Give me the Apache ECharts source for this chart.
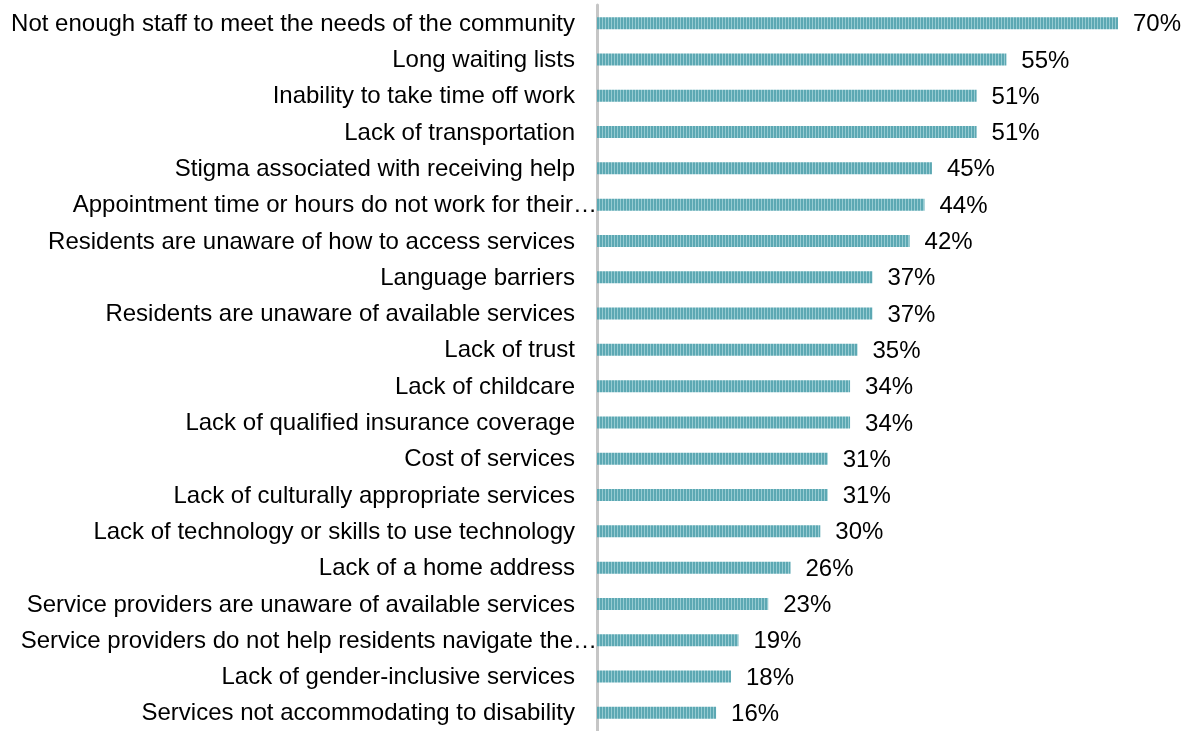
<!DOCTYPE html>
<html>
<head>
<meta charset="utf-8">
<script src="https://cdn.jsdelivr.net/npm/echarts@6/dist/echarts.min.js"></script>
<style>
  html, body { margin: 0; padding: 0; background: #ffffff; }
  #chart { width: 1189px; height: 731px; }
</style>
</head>
<body>
<div id="chart"></div>
<script>
// Barriers, listed top to bottom
const categories = [
  'Not enough staff to meet the needs of the community',
  'Long waiting lists',
  'Inability to take time off work',
  'Lack of transportation',
  'Stigma associated with receiving help',
  'Appointment time or hours do not work for their\u2026',
  'Residents are unaware of how to access services',
  'Language barriers',
  'Residents are unaware of available services',
  'Lack of trust',
  'Lack of childcare',
  'Lack of qualified insurance coverage',
  'Cost of services',
  'Lack of culturally appropriate services',
  'Lack of technology or skills to use technology',
  'Lack of a home address',
  'Service providers are unaware of available services',
  'Service providers do not help residents navigate the\u2026',
  'Lack of gender-inclusive services',
  'Services not accommodating to disability'
];
const percentages = [70, 55, 51, 51, 45, 44, 42, 37, 37, 35, 34, 34, 31, 31, 30, 26, 23, 19, 18, 16];

// vertical stripe fill for the bars
const stripe = document.createElement('canvas');
stripe.width = 3; stripe.height = 4;
const sctx = stripe.getContext('2d');
sctx.fillStyle = '#96cbd2'; sctx.fillRect(0, 0, 3, 4);
sctx.fillStyle = '#5ca8b3'; sctx.fillRect(0, 0, 2, 4);

const FONT = 'Liberation Sans, Arial, sans-serif';

const chart = echarts.init(document.getElementById('chart'));
chart.setOption({
  animation: false,
  grid: { left: 597, top: 5, width: 521, height: 731.6, containLabel: false },
  xAxis: {
    type: 'value', min: 0, max: 70, show: false
  },
  yAxis: {
    type: 'category',
    inverse: true,
    data: categories,
    axisLine: { show: true, lineStyle: { color: '#c6c6c6', width: 3 } },
    axisTick: { show: false },
    axisLabel: {
      margin: 0,
      fontFamily: FONT,
      fontSize: 24,
      color: '#000000',
      formatter: function (v) {
        return v.endsWith('\u2026') ? '{t|' + v + '}' : '{t|' + v + '}{s|}';
      },
      rich: {
        t: { fontFamily: FONT, fontSize: 24, color: '#000000', padding: [2, 0, 0, 0] },
        s: { width: 22 }
      }
    }
  },
  series: [{
    type: 'bar',
    data: percentages,
    barWidth: 12,
    itemStyle: { color: { image: stripe, repeat: 'repeat' } },
    label: {
      show: true,
      position: 'right',
      distance: 15,
      formatter: '{v|{c}%}',
      rich: {
        v: { fontFamily: FONT, fontSize: 24, color: '#000000', padding: [3, 0, 0, 0] }
      }
    }
  }]
});
</script>
</body>
</html>
